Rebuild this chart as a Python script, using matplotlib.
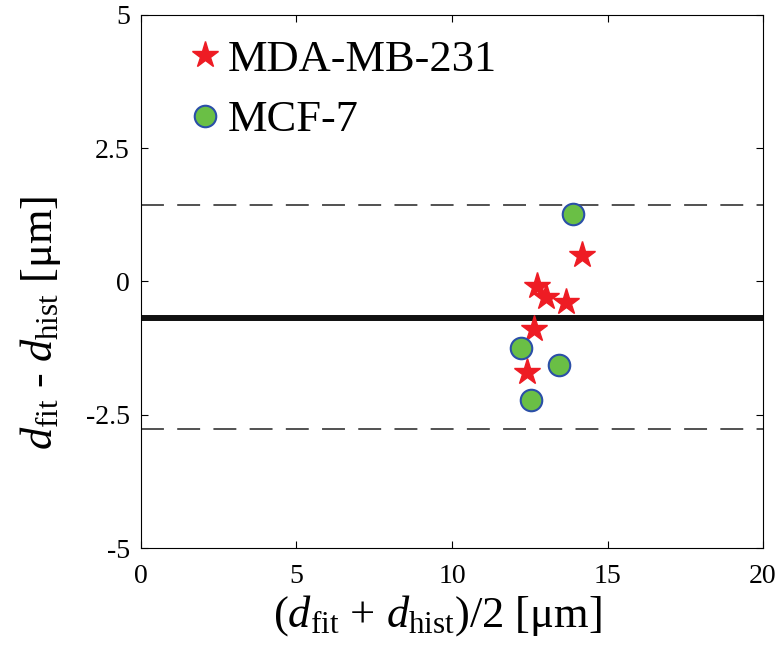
import numpy as np
import matplotlib.pyplot as plt

plt.rcParams['font.family'] = 'Liberation Serif'
plt.rcParams['mathtext.fontset'] = 'custom'
plt.rcParams['mathtext.rm'] = 'Liberation Serif'
plt.rcParams['mathtext.it'] = 'Liberation Serif:italic'

# data
mda_x = [14.17, 12.72, 13.02, 13.67, 12.64, 12.42]
mda_y = [0.50, -0.08, -0.30, -0.38, -0.90, -1.69]
mcf_x = [13.90, 12.21, 13.44, 12.54]
mcf_y = [1.26, -1.25, -1.57, -2.22]

mean_diff = -0.68
upper_loa = 1.43
lower_loa = -2.77

xticks = [0, 5, 10, 15, 20]
yticks = [-5, -2.5, 0, 2.5, 5]
ytick_labels = ['-5', '-2.5', '0', '2.5', '5']

fig = plt.figure(figsize=(7.83, 6.48), dpi=100)
ax = fig.add_axes([0.180, 0.1543, 0.7945, 0.8226])

ax.axhline(mean_diff, color='#111111', lw=4.3, zorder=1)
ax.axhline(upper_loa, color='#222222', lw=1.1, ls=(0, (15, 8.7)), zorder=1)
ax.axhline(lower_loa, color='#222222', lw=1.1, ls=(0, (15, 8.7)), zorder=1)

ax.plot(mda_x, mda_y, ls='none', marker='*', ms=20, color='#ee1c24',
        mec='#ee1c24', label='MDA-MB-231', zorder=3)
ax.plot(mcf_x, mcf_y, ls='none', marker='o', ms=15.5, mfc='#6abf45',
        mec='#2b4fa8', mew=1.5, label='MCF-7', zorder=3)

ax.set_xlim(0, 20)
ax.set_ylim(-5, 5)
ax.set_xticks(xticks)
ax.set_yticks(yticks)
ax.set_yticklabels(ytick_labels)
ax.tick_params(direction='in', top=True, right=True, labelsize=20, length=5)
ax.tick_params(axis='x', pad=11.5)
ax.tick_params(axis='y', pad=8)

ax.set_xlabel(r'($d_{\mathrm{fit}}$ + $d_{\mathrm{hist}}$)/2 [$\mathrm{\mu}$m]', fontsize=32)
ax.set_ylabel(r'$d_{\mathrm{fit}}$ - $d_{\mathrm{hist}}$ [$\mathrm{\mu}$m]', fontsize=32)
ax.xaxis.set_label_coords(0.477, -0.085)
ax.yaxis.set_label_coords(-0.126, 0.422)

ax.legend(loc='upper left', bbox_to_anchor=(0.053, 0.987), frameon=False,
          fontsize=32, handlelength=0.6, handletextpad=0.22, borderaxespad=0,
          borderpad=0.4, labelspacing=0.46)

plt.savefig('out.png', dpi=100)
